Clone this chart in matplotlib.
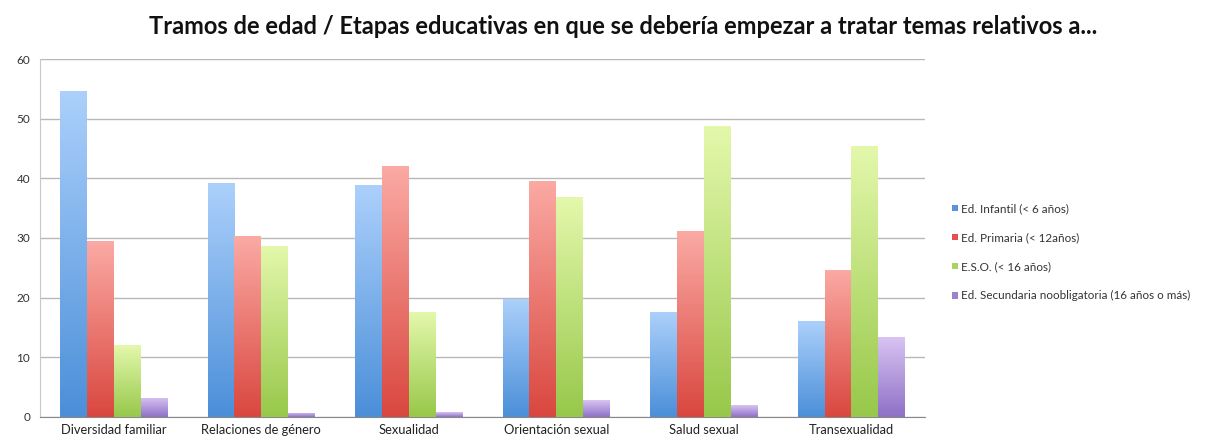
import numpy as np
import matplotlib
matplotlib.use("Agg")
import matplotlib.pyplot as plt
from matplotlib.colors import LinearSegmentedColormap

categories = ["Diversidad familiar", "Relaciones de género", "Sexualidad",
              "Orientación sexual", "Salud sexual", "Transexualidad"]
series_names = ["Ed. Infantil (< 6 años)", "Ed. Primaria (< 12años)",
                "E.S.O. (< 16 años)", "Ed. Secundaria noobligatoria (16 años o más)"]
infantil = [54.7, 39.2, 38.9, 19.7, 17.6, 16.1]
primaria = [29.5, 30.3, 42.1, 39.6, 31.2, 24.7]
eso = [12.0, 28.7, 17.6, 36.8, 48.7, 45.5]
secundaria = [3.2, 0.7, 0.8, 2.8, 2.0, 13.3]
yticks = [0, 10, 20, 30, 40, 50, 60]

series = [infantil, primaria, eso, secundaria]
# (top colour, bottom colour, legend colour)
colours = [("#acd0fb", "#4b8fd9", "#5b93db"),
           ("#fbaaa4", "#d9473f", "#e0524b"),
           ("#e4f8ac", "#97c84a", "#a8d45e"),
           ("#d9c4f2", "#8e70c6", "#9c82cf")]

plt.rcParams['font.family'] = ['Lato', 'DejaVu Sans']
fig = plt.figure(figsize=(12.26, 4.41), dpi=100)
ax = fig.add_axes([0.0326, 0.055, 0.722, 0.811])

n = len(categories)
x = np.arange(n)
bw = 0.182
for i, (vals, (ctop, cbot, cleg)) in enumerate(zip(series, colours)):
    pos = x - 1.5 * bw + i * bw
    bars = ax.bar(pos, vals, width=bw, color=cleg, edgecolor='none', zorder=2,
                  label=series_names[i])
    cmap = LinearSegmentedColormap.from_list("g%d" % i, [cbot, ctop])
    grad = np.linspace(0, 1, 256).reshape(-1, 1)
    for b in bars:
        bx, by = b.get_x(), b.get_y()
        w, h = b.get_width(), b.get_height()
        im = ax.imshow(grad, cmap=cmap, aspect='auto', origin='lower',
                       extent=[bx, bx + w, by, by + h], zorder=3)
        im.set_clip_path(b)

ax.set_xlim(-0.5, n - 0.5)
ax.set_ylim(0, 60)
ax.set_yticks(yticks)
ax.set_yticklabels([str(t) for t in yticks], fontsize=8.5, color='#333333')
ax.set_xticks(x)
ax.set_xticklabels(categories, fontsize=9.3, color='#222222')
ax.tick_params(axis='x', length=0, pad=5)
ax.tick_params(axis='y', length=0, pad=7)
ax.yaxis.grid(True, color='#b8b8b8', linewidth=1.0, zorder=0)
ax.set_axisbelow(True)
for s in ['top', 'right']:
    ax.spines[s].set_visible(False)
ax.spines['left'].set_color('#c8c8c8')
ax.spines['bottom'].set_color('#888888')

fig.text(0.508, 0.939, "Tramos de edad / Etapas educativas en que se debería empezar a tratar temas relativos a...",
         ha='center', va='center', fontsize=17, fontweight='bold', color='#111111')

handles, labels = ax.get_legend_handles_labels()
leg = fig.legend(handles, labels, loc='center left', bbox_to_anchor=(0.768, 0.428),
                 frameon=False, fontsize=8.4, handlelength=0.5, handleheight=0.5,
                 handletextpad=0.3, labelspacing=1.55)
for t in leg.get_texts():
    t.set_color('#333333')

fig.savefig("out.png", dpi=100)
